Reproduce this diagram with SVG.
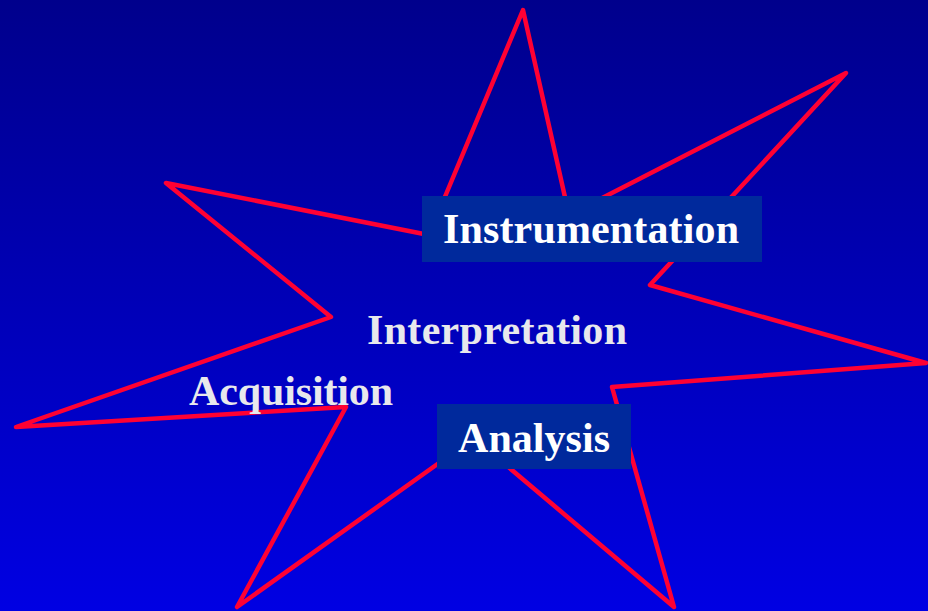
<svg xmlns="http://www.w3.org/2000/svg" width="928" height="611" viewBox="0 0 928 611">
  <defs>
    <linearGradient id="bg" x1="0" y1="0" x2="0" y2="1">
      <stop offset="0" stop-color="#00008C"/>
      <stop offset="1" stop-color="#0000E3"/>
    </linearGradient>
  </defs>
  <style>
    .star { fill: none; stroke: #FF0033; stroke-width: 4.5; stroke-linejoin: round; stroke-linecap: round; }
    .box { fill: #00299C; }
    .lbl { font-family: "Liberation Serif", "Times New Roman", serif; font-weight: bold; font-size: 42px; }
    .white { fill: #FFFFFF; }
    .grey { fill: #E8E8EC; }
  </style>
  <rect x="0" y="0" width="928" height="611" fill="url(#bg)"/>
  <g id="connectors">
    <polygon class="star" points="523,10 569,215 846,73 650,285 926,363 612,387 674,607 474,438 237,607 346,407 16,427 331,317 166,183 429,235"/>
  </g>
  <g id="instrumentation">
    <rect class="box" x="422" y="196" width="340" height="66"/>
    <text class="lbl white" x="443" y="243" textLength="296" lengthAdjust="spacing">Instrumentation</text>
  </g>
  <g id="interpretation">
    <text class="lbl grey" x="367" y="344" textLength="260" lengthAdjust="spacing">Interpretation</text>
  </g>
  <g id="acquisition">
    <text class="lbl grey" x="189" y="405" textLength="204" lengthAdjust="spacing">Acquisition</text>
  </g>
  <g id="analysis">
    <rect class="box" x="437" y="404" width="194" height="65"/>
    <text class="lbl white" x="458" y="452" textLength="152" lengthAdjust="spacing">Analysis</text>
  </g>
</svg>
